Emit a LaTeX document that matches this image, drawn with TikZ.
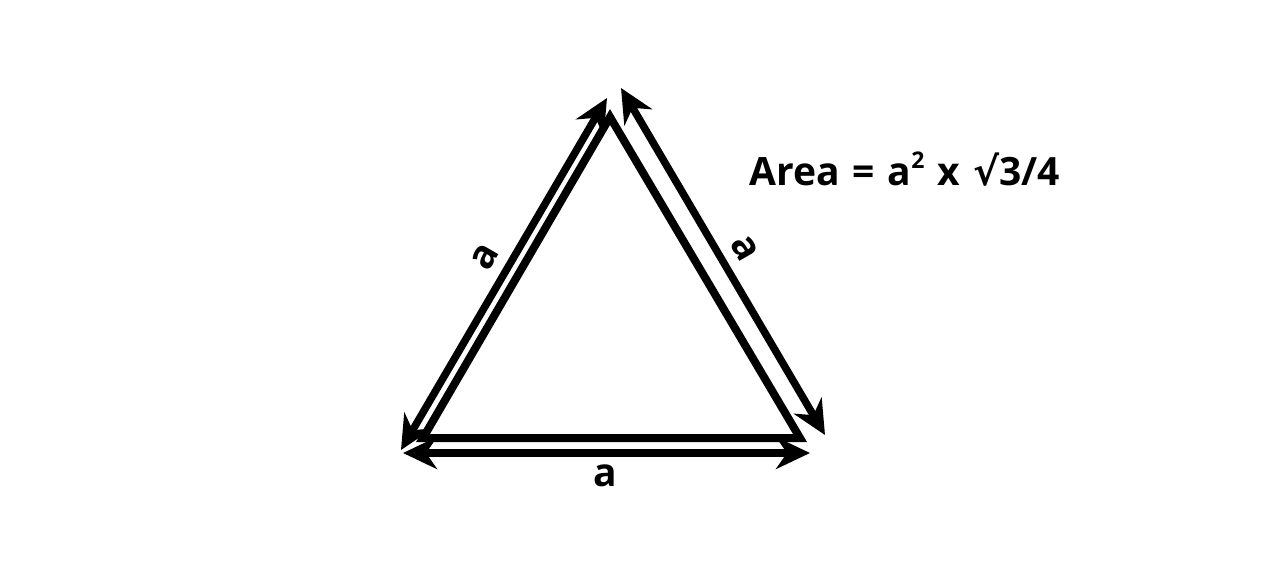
\documentclass[tikz,border=0pt]{standalone}
\usepackage{fontspec}
\setmainfont{Open Sans}
\newfontfamily\symfont{DejaVu Sans}
\usetikzlibrary{arrows.meta}
\begin{document}
\begin{tikzpicture}[x=1pt,y=-1pt,
  side/.style={line width=8pt, line join=miter},
  dim/.style={line width=7.5pt, {Stealth[length=34pt,width=32pt,inset=11pt]}-{Stealth[length=34pt,width=32pt,inset=11pt]}},
  lbl/.style={font=\fontsize{39}{42}\selectfont\bfseries, inner sep=0pt}]
\useasboundingbox (0,0) rectangle (1284,576);
% triangle vertices
\coordinate (A) at (610,117);
\coordinate (B) at (423,438);
\coordinate (C) at (800,438);
\draw[side] (A) -- (B) -- (C) -- cycle;
% arrow end points
\coordinate (L1) at (401,450);
\coordinate (L2) at (607,98);
\coordinate (R1) at (621,88);
\coordinate (R2) at (825,435);
\coordinate (D1) at (403,453);
\coordinate (D2) at (810,453);
\draw[dim] (L1) -- (L2);
\draw[dim] (R1) -- (R2);
\draw[dim] (D1) -- (D2);
% labels
\node[lbl, rotate=60] (la) at (485,257) {a};
\node[lbl, rotate=-60] (ra) at (745,248) {a};
\node[lbl] (ba) at (605,476) {a};
\node[lbl, anchor=base west] (area) at (749,185) {Area\,\,=\,\,a\raisebox{0.42em}{\fontsize{23}{25}\selectfont 2}\,\,x\,\,{\symfont √}3/4};
\end{tikzpicture}
\end{document}
